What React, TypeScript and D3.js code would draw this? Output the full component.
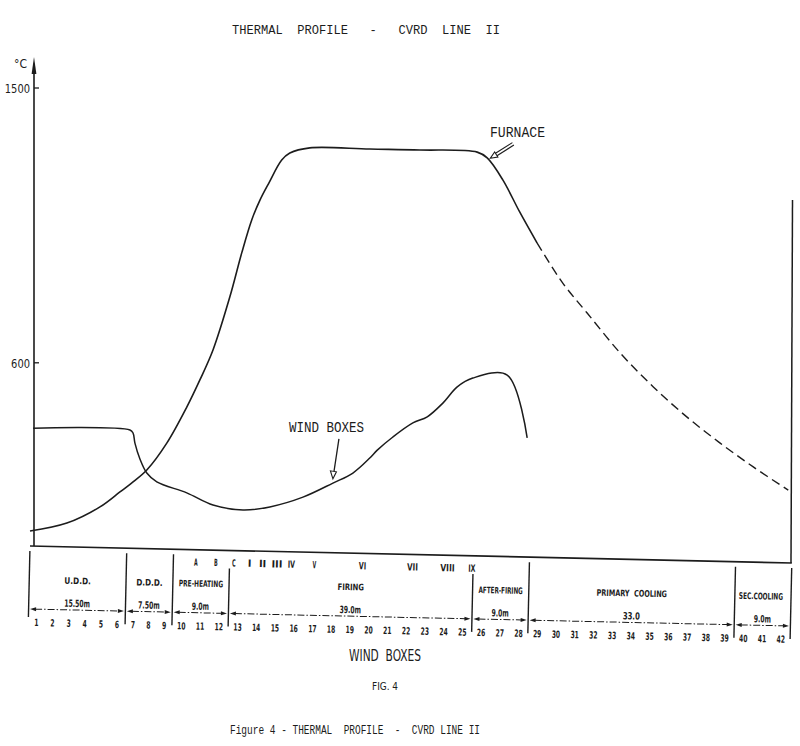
import React from 'react';
import * as d3 from 'd3';

// strand zones (lengths in metres) and wind boxes per zone
const zoneNames = ['U.D.D.', 'D.D.D.', 'PRE-HEATING', 'FIRING', 'AFTER-FIRING', 'PRIMARY  COOLING', 'SEC.COOLING'];
const zoneLengths = [15.5, 7.5, 9.0, 39.0, 9.0, 33.0, 9.0];
const zoneLengthLabels = ['15.50m', '7.50m', '9.0m', '39.0m', '9.0m', '33.0', '9.0m'];
const zoneBoxCounts = [6, 3, 3, 13, 3, 11, 3];

// hood / burner marks above the table
const stationLabels = ['A', 'B', 'C', 'I', 'II', 'III', 'IV', 'V', 'VI', 'VII', 'VIII', 'IX'];
const stationPos = [26.6, 29.8, 32.7, 35.2, 37.3, 39.6, 41.9, 45.6, 53.3, 61.3, 66.9, 70.8];

// furnace profile (measured part, solid)
const furnaceDist = [0, 5.9, 11.2, 14.4, 16.5, 18.7, 21.9, 25.1, 27.2, 29.3, 32.0, 33.9, 35.5, 36.8, 38.2, 40.3, 41.6, 44.8, 54.4, 62.4, 71.6, 73.2, 75.7, 78.4, 81.2];
const furnaceTemp = [49, 75, 128, 177, 210, 249, 337, 455, 544, 642, 816, 960, 1068, 1132, 1187, 1264, 1287, 1304, 1300, 1297, 1290, 1271, 1199, 1094, 992];

// furnace profile in cooling (dashed)
const coolingDist = [81.2, 85.3, 89.2, 94.5, 99.8, 105.2, 110.5, 115.8, 121.4];
const coolingTemp = [992, 861, 763, 632, 521, 422, 337, 259, 183];

// wind boxes temperature
const windDist = [0.5, 16.0, 16.5, 16.8, 17.6, 18.7, 20.3, 25.1, 29.3, 34.1, 38.4, 43.7, 48.5, 51.7, 54.4, 55.6, 58.1, 61.3, 63.6, 66.1, 68.4, 70.9, 76.4, 79.6];
const windTemp = [386, 380, 370, 337, 285, 239, 210, 174, 134, 118, 128, 160, 206, 239, 288, 314, 357, 403, 423, 468, 521, 550, 560, 354];

const tempTicks = [600, 1500];

const INK = '#1c1c1c';
const LETTER = "'Liberation Sans Narrow', 'DejaVu Sans Condensed', 'DejaVu Sans', sans-serif";
const TYPE = "'Liberation Mono', 'DejaVu Sans Mono', monospace";

export default function App() {
  const W = 800;
  const H = 746;
  const total = d3.sum(zoneLengths);

  const x = d3.scaleLinear().domain([0, total]).range([30, 792]);
  const y = d3.scaleLinear().domain([0, 1500]).range([546, 88]);

  const line = d3.line<[number, number]>()
    .x(d => x(d[0]))
    .y(d => y(d[1]))
    .curve(d3.curveCatmullRom.alpha(0.5));

  const furnace = line(furnaceDist.map((d, i) => [d, furnaceTemp[i]]));
  const cooling = line(coolingDist.map((d, i) => [d, coolingTemp[i]]));
  const wind = line(windDist.map((d, i) => [d, windTemp[i]]));

  const bounds = [0, ...Array.from(d3.cumsum(zoneLengths))];

  // wind box number positions, centred in their share of each zone
  const boxes: { n: number; px: number }[] = [];
  let n = 1;
  zoneBoxCounts.forEach((count, i) => {
    const nums = d3.range(n, n + count);
    const sc = d3.scalePoint<number>()
      .domain(nums)
      .range([x(bounds[i]), x(bounds[i + 1])])
      .padding(0.5);
    nums.forEach(k => boxes.push({ n: k, px: sc(k) as number }));
    n += count;
  });

  // annotation tips
  const fTip: [number, number] = [x(73.7), y(1270)];
  const wTip: [number, number] = [x(48.5), y(220)];

  const fDir = [-0.846, 0.533];
  const fPerp = [0.533, 0.846];
  const fBase = [fTip[0] - fDir[0] * 7, fTip[1] - fDir[1] * 7];
  const fStart = [fBase[0] - fDir[0] * 20, fBase[1] - fDir[1] * 20];

  return (
    <svg
      width={W}
      height={H}
      style={{ position: 'absolute', left: 0, top: 0, background: '#fff', display: 'block' }}
    >
      {/* title */}
      <text x={232} y={34} fontFamily={TYPE} fontSize={13} fill={INK}
        textLength={268} lengthAdjust="spacingAndGlyphs" style={{ whiteSpace: 'pre' }}>
        {'THERMAL  PROFILE   -   CVRD  LINE  II'}
      </text>

      {/* y axis */}
      <line x1={34} y1={546} x2={34} y2={70} stroke={INK} strokeWidth={1.6} />
      <path d="M34,57 L31.6,74 L36.4,74 Z" fill={INK} />
      <text x={14} y={68} fontFamily={LETTER} fontSize={12} fill={INK}>°C</text>
      {tempTicks.map(t => (
        <g key={t}>
          <line x1={34} x2={39} y1={y(t)} y2={y(t)} stroke={INK} strokeWidth={1.3} />
          <text x={30} y={y(t) + 5} textAnchor="end" fontFamily={LETTER} fontSize={13}
            fill={INK} textLength={String(t).length * 6.3} lengthAdjust="spacingAndGlyphs">
            {t}
          </text>
        </g>
      ))}

      {/* right frame edge */}
      <line x1={792.5} y1={200} x2={791} y2={563} stroke={INK} strokeWidth={1.5} />

      {/* curves */}
      <path d={furnace ?? ''} fill="none" stroke={INK} strokeWidth={1.6} />
      <path d={cooling ?? ''} fill="none" stroke={INK} strokeWidth={1.4} strokeDasharray="9 5" />
      <path d={wind ?? ''} fill="none" stroke={INK} strokeWidth={1.5} />

      {/* FURNACE annotation */}
      <text x={490} y={137} fontFamily={TYPE} fontSize={15} fill={INK}
        textLength={55} lengthAdjust="spacingAndGlyphs">FURNACE</text>
      {[-1.4, 1.4].map(o => (
        <line key={o}
          x1={fStart[0] + fPerp[0] * o} y1={fStart[1] + fPerp[1] * o}
          x2={fBase[0] + fPerp[0] * o} y2={fBase[1] + fPerp[1] * o}
          stroke={INK} strokeWidth={1.1} />
      ))}
      <polygon
        points={[
          fTip,
          [fBase[0] + fPerp[0] * 3, fBase[1] + fPerp[1] * 3],
          [fBase[0] - fPerp[0] * 3, fBase[1] - fPerp[1] * 3],
        ].map(p => p.join(',')).join(' ')}
        fill="#fff" stroke={INK} strokeWidth={1.1} />

      {/* WIND BOXES annotation */}
      <text x={289} y={432} fontFamily={TYPE} fontSize={15} fill={INK}
        textLength={75} lengthAdjust="spacingAndGlyphs" style={{ whiteSpace: 'pre' }}>
        {'WIND BOXES'}
      </text>
      <line x1={wTip[0] + 6} y1={wTip[1] - 40} x2={wTip[0] + 1} y2={wTip[1] - 7}
        stroke={INK} strokeWidth={1.3} />
      <polygon
        points={`${wTip[0]},${wTip[1]} ${wTip[0] - 2.5},${wTip[1] - 8} ${wTip[0] + 3.5},${wTip[1] - 7}`}
        fill="#fff" stroke={INK} strokeWidth={1.1} />

      {/* zone table, slightly skewed as on the drawing */}
      <g transform="rotate(1.28 30 546)">
        <line x1={x(0)} y1={546} x2={x(total)} y2={546} stroke={INK} strokeWidth={1.7} />

        {bounds.map((b, i) => (
          <line key={'div' + i} x1={x(b)} x2={x(b)}
            y1={i === 3 || i === 4 ? 564 : 551} y2={i === 0 ? 617 : 622}
            stroke={INK} strokeWidth={1.4} />
        ))}

        {stationLabels.map((s, i) => (
          <text key={'st' + i} x={x(stationPos[i])} y={562} textAnchor="middle"
            fontFamily={LETTER} fontWeight="bold" fontSize={10} fill={INK}
            textLength={s.length * 3.6} lengthAdjust="spacingAndGlyphs">
            {s}
          </text>
        ))}

        {zoneNames.map((name, i) => {
          const cx = (x(bounds[i]) + x(bounds[i + 1])) / 2 - (i === zoneNames.length - 1 ? 2 : 0);
          const w = Math.min(name.length * 4.4, x(bounds[i + 1]) - x(bounds[i]) - 12);
          return (
            <text key={'zn' + i} x={cx} y={583} textAnchor="middle"
              fontFamily={LETTER} fontWeight="bold" fontSize={9} fill={INK}
              textLength={w} lengthAdjust="spacingAndGlyphs" style={{ whiteSpace: 'pre' }}>
              {name}
            </text>
          );
        })}

        {zoneLengthLabels.map((lab, i) => {
          const x0 = x(bounds[i]) + 1.5;
          const x1 = x(bounds[i + 1]) - 1.5;
          const cx = (x0 + x1) / 2;
          const yy = 609;
          return (
            <g key={'dim' + i}>
              <line x1={x0 + 5} x2={x1 - 5} y1={yy} y2={yy} stroke={INK} strokeWidth={1}
                strokeDasharray="7 2 1.5 2" />
              <path d={`M${x0},${yy} L${x0 + 6},${yy - 2} L${x0 + 6},${yy + 2} Z`} fill={INK} />
              <path d={`M${x1},${yy} L${x1 - 6},${yy - 2} L${x1 - 6},${yy + 2} Z`} fill={INK} />
              <text x={cx} y={606} textAnchor="middle" fontFamily={LETTER} fontWeight="bold"
                fontSize={10} fill={INK} textLength={lab.length * 4.3} lengthAdjust="spacingAndGlyphs">
                {lab}
              </text>
            </g>
          );
        })}

        {boxes.map(b => (
          <text key={'bx' + b.n} x={b.px} y={626} textAnchor="middle"
            fontFamily={LETTER} fontWeight="bold" fontSize={10} fill={INK}
            textLength={String(b.n).length * 4.2} lengthAdjust="spacingAndGlyphs">
            {b.n}
          </text>
        ))}
      </g>

      {/* axis caption */}
      <text x={385} y={661} textAnchor="middle" fontFamily={LETTER} fontSize={15} fill={INK}
        textLength={72} lengthAdjust="spacingAndGlyphs" style={{ whiteSpace: 'pre' }}>
        {'WIND  BOXES'}
      </text>
      <text x={385} y={690} textAnchor="middle" fontFamily={LETTER} fontSize={11} fill={INK}
        textLength={26} lengthAdjust="spacingAndGlyphs">
        FIG. 4
      </text>

      {/* figure caption */}
      <text x={230} y={734} fontFamily={TYPE} fontSize={13} fill={INK}
        textLength={250} lengthAdjust="spacingAndGlyphs" style={{ whiteSpace: 'pre' }}>
        {'Figure 4 - THERMAL  PROFILE  -  CVRD LINE II'}
      </text>
    </svg>
  );
}
